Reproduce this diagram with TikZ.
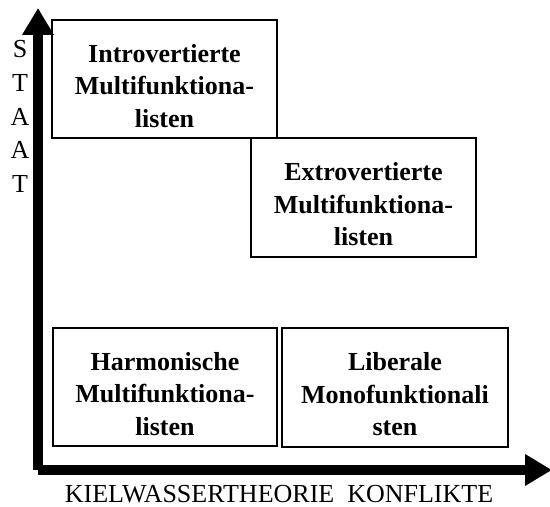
\documentclass[tikz,border=0pt]{standalone}
\usepackage{fontspec}
\setmainfont{Liberation Serif}
\usetikzlibrary{arrows.meta}
\begin{document}
\begin{tikzpicture}[x=1pt,y=1pt,
  quad/.style={draw, line width=2.6pt, inner sep=0pt},
  lbl/.style={font=\fontsize{26}{32.5}\selectfont\bfseries, align=center, inner sep=0pt},
  axislbl/.style={font=\fontsize{26}{33.6}\selectfont, inner sep=0pt},
  axis/.style={line width=10pt, -{Triangle[length=27pt,width=30pt]}}]
\useasboundingbox (0,0) rectangle (550,507);

% axes
\coordinate (origin) at (38,37);
\coordinate (ytip) at (38,499);
\coordinate (xtip) at (552,37);
\draw[axis] (origin) -- (ytip);
\draw[axis] (origin) -- (xtip);

% quadrant boxes
\node[quad, minimum width=225pt, minimum height=118pt] (intro) at (164.5,428) {};
\node[quad, minimum width=225pt, minimum height=119pt] (extro) at (363.5,309.5) {};
\node[quad, minimum width=224pt, minimum height=118pt] (harm) at (165,120) {};
\node[quad, minimum width=226pt, minimum height=119pt] (lib) at (395,119.5) {};

% box texts
\node[lbl] (introtxt) at ([yshift=-7pt]intro.center) {Introvertierte\\Multifunktiona-\\listen};
\node[lbl] (extrotxt) at ([yshift=-7pt]extro.center) {Extrovertierte\\Multifunktiona-\\listen};
\node[lbl] (harmtxt) at ([yshift=-7pt]harm.center) {Harmonische\\Multifunktiona-\\listen};
\node[lbl] (libtxt) at ([yshift=-7pt]lib.center) {Liberale\\Monofunktionali\\sten};

% axis labels
\node[axislbl, align=center, anchor=north] (ylabel) at (20,466.5) {S\\T\\A\\A\\T};
\node[axislbl, anchor=base] (xlabel) at (279,4.5) {KIELWASSERTHEORIE\ \ KONFLIKTE};
\end{tikzpicture}
\end{document}
